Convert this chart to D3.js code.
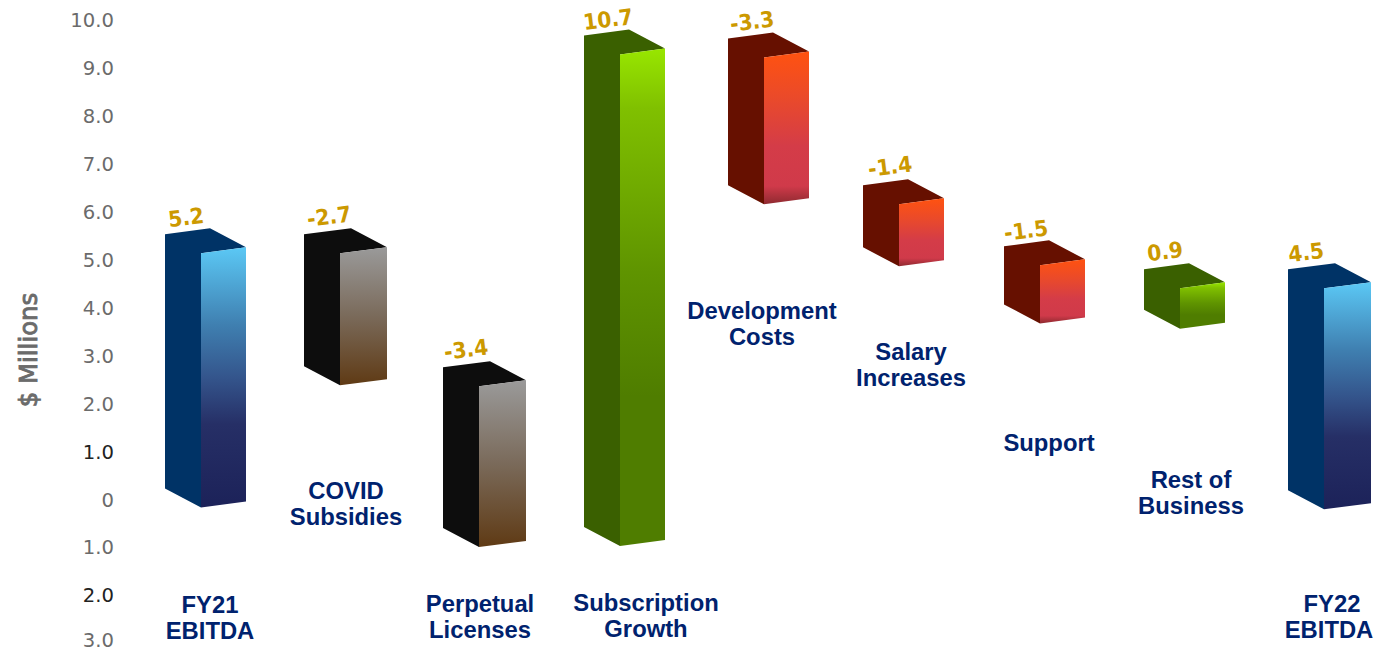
<!DOCTYPE html>
<html>
<head>
<meta charset="utf-8">
<style>html,body{margin:0;padding:0;background:#fff;overflow:hidden}svg{display:block}</style>
<script src="https://cdn.jsdelivr.net/npm/d3@7"></script>
</head>
<body>
<svg id="c" width="1391" height="648"></svg>
<script>
// ---- data ----
const categories = [["FY21","EBITDA"],["COVID","Subsidies"],["Perpetual","Licenses"],["Subscription","Growth"],["Development","Costs"],["Salary","Increases"],["Support"],["Rest of","Business"],["FY22","EBITDA"]];
const valueLabels = ["5.2","-2.7","-3.4","10.7","-3.3","-1.4","-1.5","0.9","4.5"];
const barHigh = [5.15,5.15,2.38,9.29,9.23,6.17,4.9,4.42,4.42];
const barLow  = [-0.15,2.4,-1.0,-0.98,6.17,4.88,3.69,3.58,-0.19];
const barKind = ["total","lost","lost","gain","cost","cost","cost","gain","total"];
const tickValues = [10,9,8,7,6,5,4,3,2,1,0,-1,-2,-3];

// ---- layout ----
const svg = d3.select("#c");
const idx = categories.map((_,i)=>i);
const y = d3.scaleLinear().domain([10,0,-1,-2,-3]).range([20.5,500.5,547,595,640]);
const x = d3.scaleOrdinal().domain(idx).range([201,340,479,620,764,899,1040,1180,1324]);
const rightW = d3.scaleOrdinal().domain(idx).range([45,47,47,45,45,45,45,45,47]);
const leftW = 36, leftDrop = 19, topRise = 6;
const labelPos = d3.scaleOrdinal().domain(idx).range([[210,605],[346,491],[480,604],[646,603],[762,311],[911,352],[1049,443],[1191,480],[1329,604]]);
const firstLineDx = d3.scaleOrdinal().domain(idx).range([0,0,0,0,0,0,0,0,3]);
const valuePos = d3.scaleOrdinal().domain(idx).range([[187,217],[330,216],[467,349],[609,19],[753,21],[891,166],[1027,230],[1166,251],[1307,252]]);

const palette = {
  total:{side:"#003366",stops:[[0,"#5bc8f5"],[0.3,"#3f7fb0"],[0.5,"#34558c"],[0.68,"#262f66"],[1,"#1c2259"]]},
  lost:{side:"#0d0d0d",stops:[[0,"#9a9a9a"],[0.5,"#7a6a5a"],[1,"#5f3a14"]]},
  gain:{side:"#3a6000",stops:[[0,"#98e600"],[0.12,"#80c000"],[0.45,"#5f9400"],[0.7,"#4f7d00"],[1,"#4f7d00"]]},
  cost:{side:"#661000",stops:[[0,"#ff5210"],[0.3,"#ea4a2a"],[0.62,"#d43c48"],[0.88,"#d03a4a"],[1,"#8f2a30"]]}
};
const defs = svg.append("defs");
Object.entries(palette).forEach(([k,p])=>{
  const g = defs.append("linearGradient").attr("id","grad-"+k).attr("x1",0).attr("y1",0).attr("x2",0).attr("y2",1);
  p.stops.forEach(s=>g.append("stop").attr("offset",s[0]).attr("stop-color",s[1]));
});

// axis
const axis = d3.axisLeft(y).tickValues(tickValues).tickSize(0).tickPadding(0)
  .tickFormat(d=> d===0 ? "0" : d3.format(".1f")(Math.abs(d)));
const gAxis = svg.append("g").attr("transform","translate(114,0)").call(axis);
gAxis.select(".domain").remove();
gAxis.selectAll("text").attr("font-family","'DejaVu Sans'").attr("font-size",19.6)
  .attr("fill",d=> (d===1||d===-2) ? "#222" : "#6b6b6b");

svg.append("text").attr("transform","translate(37,350) rotate(-90)")
  .attr("text-anchor","middle").attr("font-family","'DejaVu Sans'")
  .attr("font-size",24.4).attr("fill","#6b6b6b").attr("stroke","#6b6b6b").attr("stroke-width",0.9).text("$ Millions");

// bars
const bars = idx.map(i=>({i,kind:barKind[i],high:barHigh[i],low:barLow[i],label:valueLabels[i]}));
const pts = a=>a.map(p=>p.join(",")).join(" ");
const g = svg.selectAll("g.bar").data(bars).join("g").attr("class","bar");
// left side + top as one shape, so no seam shows between them
g.append("polygon").attr("fill",d=>palette[d.kind].side).attr("points",d=>{
  const f=x(d.i),t=y(d.high),b=y(d.low),w=rightW(d.i);
  return pts([[f-leftW,b-leftDrop],[f-leftW,t-leftDrop],[f-leftW+w,t-leftDrop-topRise],[f+w,t-topRise],[f,t],[f,b]]);
});
g.append("polygon").attr("fill",d=>`url(#grad-${d.kind})`).attr("points",d=>{
  const f=x(d.i),t=y(d.high),b=y(d.low),w=rightW(d.i);
  return pts([[f,t],[f+w,t-topRise],[f+w,b-topRise],[f,b]]);
});

// value labels
g.append("text").attr("transform",d=>{const p=valuePos(d.i);return `translate(${p[0]},${p[1]+8}) rotate(-7) scale(0.92,1)`;})
  .attr("text-anchor","middle").attr("font-family","'DejaVu Sans'").attr("font-weight","bold")
  .attr("font-size",22).attr("fill","#cc9900").text(d=>d.label);

// category labels
const cat = svg.selectAll("text.cat").data(idx).join("text").attr("class","cat")
  .attr("text-anchor","middle").attr("font-family","'Liberation Sans'").attr("font-weight","bold")
  .attr("font-size",23.8).attr("fill","#00226e")
  .attr("transform",d=>{const p=labelPos(d);return `translate(${p[0]},${p[1]+8})`;});
cat.each(function(d){
  const t=d3.select(this);
  categories[d].forEach((w,i)=>t.append("tspan").attr("x",i===0?firstLineDx(d):0).attr("y",i*26).text(w));
});
</script>
</body>
</html>
